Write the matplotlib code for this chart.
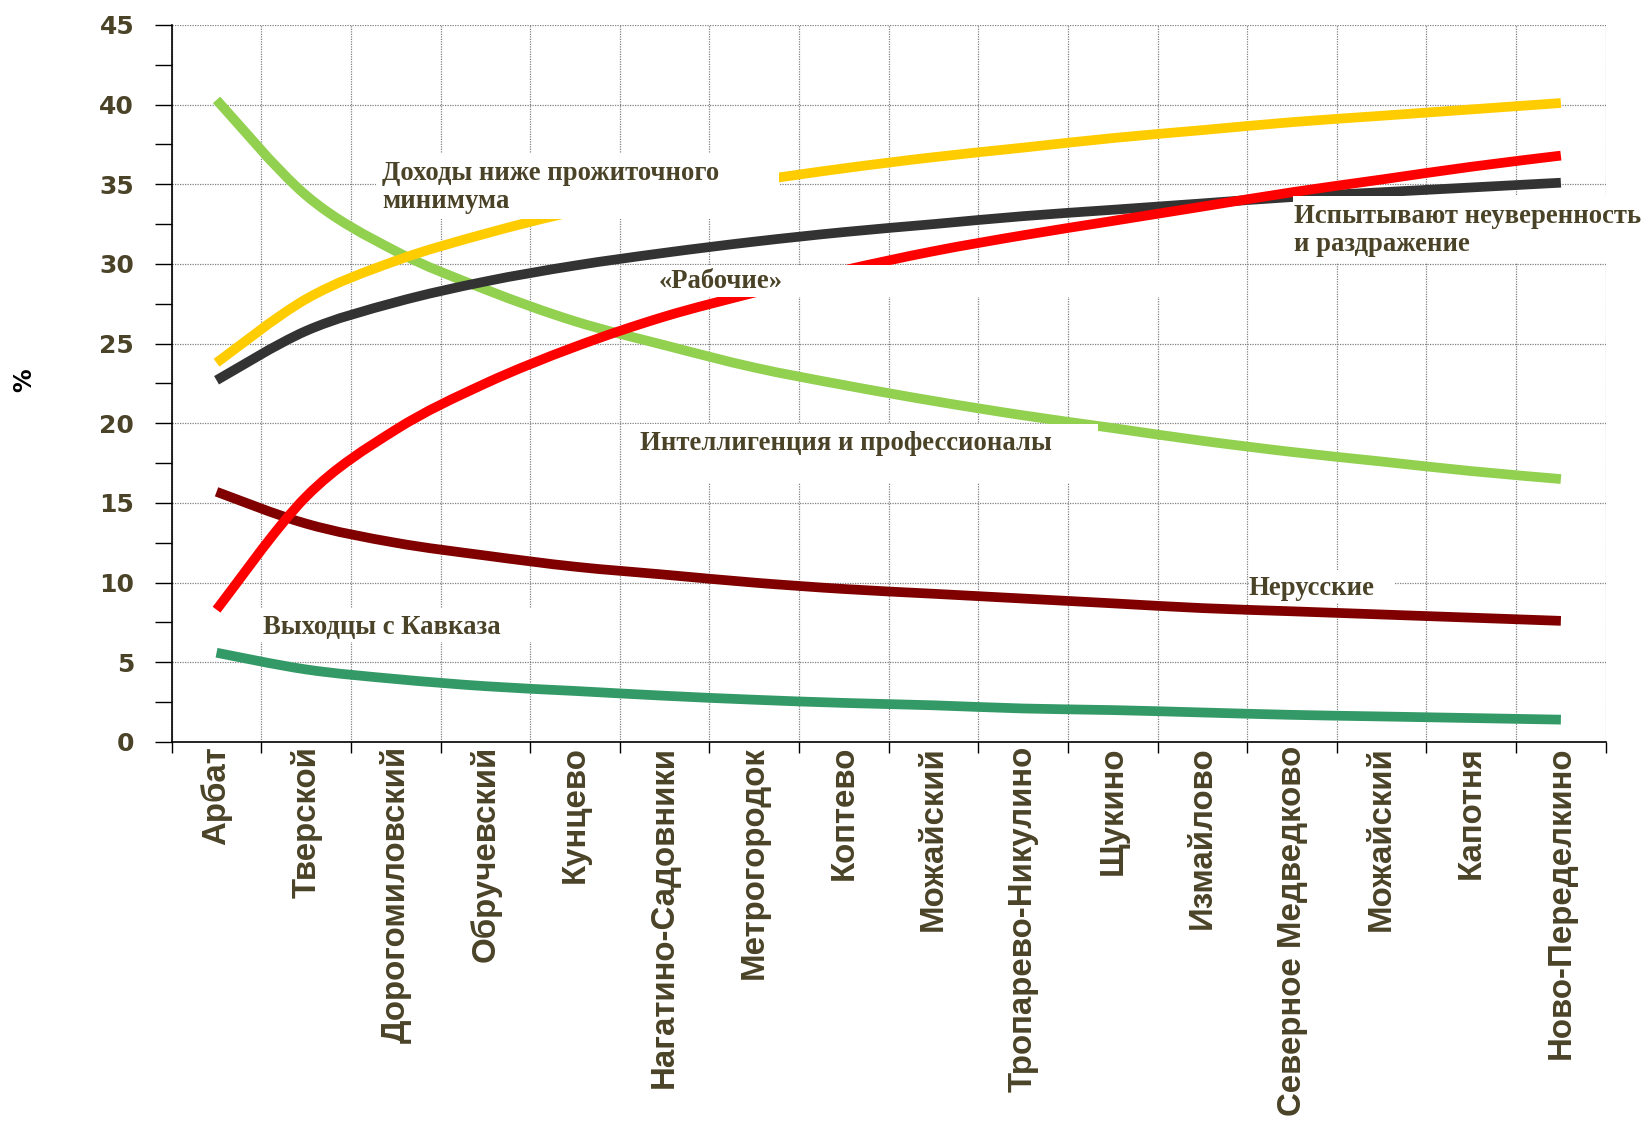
import matplotlib
matplotlib.use("Agg")
import matplotlib.pyplot as plt
from matplotlib.patches import Rectangle, PathPatch
from matplotlib.path import Path
from matplotlib.ticker import FixedLocator, MultipleLocator

# Districts (x axis)
districts = ["Арбат", "Тверской", "Дорогомиловский", "Обручевский", "Кунцево",
             "Нагатино-Садовники", "Метрогородок", "Коптево", "Можайский",
             "Тропарево-Никулино", "Щукино", "Измайлово", "Северное Медведково",
             "Можайский", "Капотня", "Ново-Переделкино"]

# Series values, %
income_low = [23.8, 27.8, 30.2, 31.9, 33.3, 34.3, 35.2, 36.0, 36.7, 37.3, 37.9, 38.4, 38.9, 39.3, 39.7, 40.1]
insecure = [22.7, 25.8, 27.6, 28.9, 29.9, 30.7, 31.4, 32.0, 32.5, 33.0, 33.4, 33.8, 34.2, 34.5, 34.8, 35.1]
workers = [8.3, 15.4, 19.6, 22.5, 24.8, 26.7, 28.2, 29.6, 30.8, 31.8, 32.7, 33.6, 34.5, 35.3, 36.1, 36.8]
intelligentsia = [40.3, 34.3, 30.8, 28.4, 26.4, 24.9, 23.5, 22.4, 21.4, 20.5, 19.7, 18.9, 18.2, 17.6, 17.0, 16.5]
non_russian = [15.7, 13.7, 12.5, 11.7, 11.0, 10.5, 10.0, 9.6, 9.3, 9.0, 8.7, 8.4, 8.2, 8.0, 7.8, 7.6]
caucasus = [5.6, 4.55, 3.95, 3.5, 3.2, 2.9, 2.65, 2.45, 2.3, 2.1, 2.0, 1.85, 1.7, 1.6, 1.5, 1.4]

text_col = "#4A4328"
serif = "Liberation Serif"


def smooth_line(ax, xs, ys, color, lw=7):
    # smoothed line (Bezier through the points, like Excel's smoothed line)
    pts = list(zip(xs, ys))
    n = len(pts)
    verts = [pts[0]]
    codes = [Path.MOVETO]
    for i in range(n - 1):
        p0 = pts[max(i - 1, 0)]
        p1 = pts[i]
        p2 = pts[i + 1]
        p3 = pts[min(i + 2, n - 1)]
        c1 = (p1[0] + (p2[0] - p0[0]) / 6, p1[1] + (p2[1] - p0[1]) / 6)
        c2 = (p2[0] - (p3[0] - p1[0]) / 6, p2[1] - (p3[1] - p1[1]) / 6)
        verts += [c1, c2, p2]
        codes += [Path.CURVE4] * 3
    ax.add_patch(PathPatch(Path(verts, codes), fill=False, edgecolor=color,
                           lw=lw, capstyle="butt", joinstyle="round", zorder=3))


fig = plt.figure(figsize=(16.45, 11.24), dpi=100)
ax = fig.add_axes([0.1044, 0.3399, 0.8717, 0.6379])

x = list(range(len(districts)))
smooth_line(ax, x, intelligentsia, "#92D050")
smooth_line(ax, x, non_russian, "#800000")
smooth_line(ax, x, caucasus, "#339966")
smooth_line(ax, x, income_low, "#FFCC00")
smooth_line(ax, x, insecure, "#333333")
smooth_line(ax, x, workers, "#FF0000")

ax.set_xlim(-0.5, len(districts) - 0.5)
ax.set_ylim(0, 45)

# x: boundaries as major ticks (grid), centres as labelled minor ticks
ax.xaxis.set_major_locator(FixedLocator([i - 0.5 for i in range(len(districts) + 1)]))
ax.xaxis.set_minor_locator(FixedLocator(x))
ax.set_xticklabels([], minor=False)
ax.set_xticklabels(districts, minor=True, rotation=90, fontsize=23.8,
                   fontweight="bold", family="Liberation Sans", color=text_col)
ax.tick_params(axis="x", which="major", length=8, width=1, direction="out")
ax.tick_params(axis="x", which="minor", length=0, pad=3)

ax.yaxis.set_major_locator(MultipleLocator(5))
ax.yaxis.set_minor_locator(MultipleLocator(2.5))
ax.tick_params(axis="y", which="both", length=12, width=1, direction="out", pad=15)
for lab in ax.get_yticklabels():
    lab.set_fontsize(18)
    lab.set_fontweight("bold")
    lab.set_color(text_col)
ax.get_yticklabels()[0].set_color("black")

ax.grid(True, which="major", color="#808080", lw=0.9, linestyle=(0, (1, 1)), zorder=0)
ax.set_axisbelow(True)
ax.spines["top"].set_visible(False)
ax.spines["right"].set_visible(False)
ax.spines["left"].set_linewidth(1.2)
ax.spines["bottom"].set_linewidth(1.2)

fig.text(0.0146, 0.662, "%", rotation=90, fontsize=17, fontweight="bold",
         ha="center", va="center")

# white label boxes (x0, x1, y0, y1) in data units, then the labels
boxes = [(1.78, 6.28, 32.84, 36.96),
         (4.61, 10.92, 27.95, 29.95),
         (4.61, 9.83, 16.24, 19.95),
         (12.01, 15.6, 30.05, 34.25),
         (11.52, 13.15, 8.7, 10.8),
         (0.43, 3.89, 6.30, 8.39)]
for x0, x1, y0, y1 in boxes:
    ax.add_patch(Rectangle((x0, y0), x1 - x0, y1 - y0, facecolor="white",
                           edgecolor="none", zorder=4, clip_on=False))

labels = [(1.85, 34.81, "Доходы ниже прожиточного\nминимума"),
          (4.93, 28.9, "«Рабочие»"),
          (4.73, 18.75, "Интеллигенция и профессионалы"),
          (12.02, 32.12, "Испытывают неуверенность\nи раздражение"),
          (11.52, 9.65, "Нерусские"),
          (0.52, 7.2, "Выходцы с Кавказа")]
for tx, ty, s in labels:
    ax.text(tx, ty, s, family=serif, fontsize=19.2, fontweight="bold",
            color=text_col, ha="left", va="center", zorder=5, linespacing=1.15)

fig.savefig("out.png", dpi=100)
